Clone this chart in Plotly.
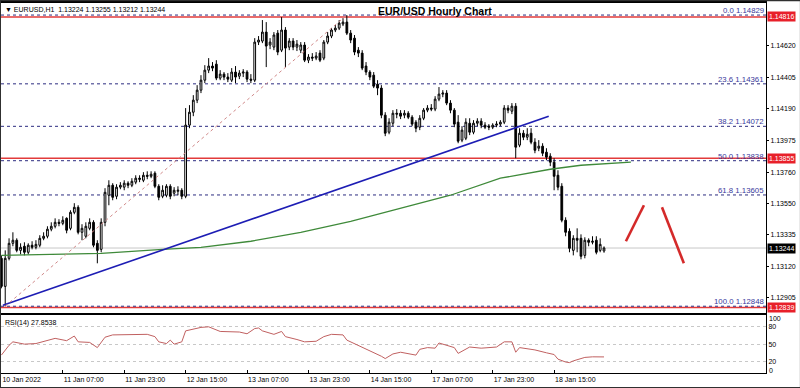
import plotly.graph_objects as go

# ---------------- data ----------------
bars = list(range(158))
opens = [1.13174, 1.12983, 1.13174, 1.13276, 1.13297, 1.13228, 1.13256, 1.13215, 1.13263, 1.13249,
         1.13263, 1.13310, 1.13324, 1.13372, 1.13392, 1.13419, 1.13412, 1.13446, 1.13378, 1.13487,
         1.13521, 1.13351, 1.13324, 1.13378, 1.13419, 1.13276, 1.13235, 1.13419, 1.13603, 1.13671,
         1.13596, 1.13658, 1.13658, 1.13685, 1.13671, 1.13692, 1.13719, 1.13705, 1.13739, 1.13732,
         1.13753, 1.13664, 1.13596, 1.13603, 1.13664, 1.13617, 1.13630, 1.13637, 1.13596, 1.14080,
         1.14168, 1.14250, 1.14318, 1.14386, 1.14454, 1.14482, 1.14495, 1.14400, 1.14427, 1.14407,
         1.14386, 1.14441, 1.14413, 1.14434, 1.14441, 1.14393, 1.14386, 1.14645, 1.14652, 1.14713,
         1.14625, 1.14611, 1.14706, 1.14590, 1.14727, 1.14611, 1.14652, 1.14611, 1.14590, 1.14625,
         1.14522, 1.14543, 1.14536, 1.14570, 1.14536, 1.14645, 1.14686, 1.14727, 1.14740, 1.14768,
         1.14781, 1.14706, 1.14672, 1.14590, 1.14570, 1.14482, 1.14441, 1.14420, 1.14359, 1.14332,
         1.14148, 1.14032, 1.14093, 1.14161, 1.14161, 1.14148, 1.14161, 1.14134, 1.14100, 1.14066,
         1.14127, 1.14182, 1.14196, 1.14189, 1.14257, 1.14291, 1.14298, 1.14230, 1.14182, 1.14100,
         1.13978, 1.13991, 1.14093, 1.14032, 1.14093, 1.14107, 1.14080, 1.14073, 1.14066, 1.14080,
         1.14087, 1.14100, 1.14196, 1.14175, 1.14209, 1.13944, 1.14025, 1.13998, 1.14025, 1.13964,
         1.13923, 1.13937, 1.13896, 1.13869, 1.13828, 1.13739, 1.13664, 1.13433, 1.13358, 1.13228,
         1.13310, 1.13310, 1.13194, 1.13297, 1.13283, 1.13297, 1.13228, 1.13224]
highs = [1.13194, 1.13228, 1.13310, 1.13351, 1.13310, 1.13276, 1.13283, 1.13276, 1.13290, 1.13297,
         1.13331, 1.13351, 1.13392, 1.13419, 1.13446, 1.13440, 1.13460, 1.13453, 1.13501, 1.13549,
         1.13535, 1.13406, 1.13419, 1.13446, 1.13433, 1.13297, 1.13446, 1.13651, 1.13705, 1.13685,
         1.13678, 1.13692, 1.13705, 1.13698, 1.13719, 1.13739, 1.13739, 1.13760, 1.13766, 1.13766,
         1.13766, 1.13678, 1.13671, 1.13678, 1.13678, 1.13658, 1.13664, 1.13651, 1.14196, 1.14216,
         1.14284, 1.14352, 1.14420, 1.14488, 1.14536, 1.14509, 1.14522, 1.14454, 1.14441, 1.14434,
         1.14468, 1.14482, 1.14454, 1.14461, 1.14454, 1.14427, 1.14672, 1.14686, 1.14795, 1.14781,
         1.14672, 1.14713, 1.14727, 1.14815, 1.14747, 1.14672, 1.14672, 1.14659, 1.14645, 1.14645,
         1.14563, 1.14570, 1.14577, 1.14590, 1.14659, 1.14713, 1.14740, 1.14761, 1.14795, 1.14808,
         1.14829, 1.14727, 1.14693, 1.14611, 1.14590, 1.14509, 1.14454, 1.14441, 1.14386, 1.14352,
         1.14168, 1.14127, 1.14182, 1.14189, 1.14182, 1.14182, 1.14175, 1.14148, 1.14114, 1.14148,
         1.14196, 1.14216, 1.14223, 1.14277, 1.14339, 1.14318, 1.14318, 1.14250, 1.14196, 1.14148,
         1.14073, 1.14127, 1.14127, 1.14114, 1.14127, 1.14127, 1.14100, 1.14087, 1.14093, 1.14107,
         1.14114, 1.14216, 1.14216, 1.14230, 1.14230, 1.14059, 1.14046, 1.14059, 1.14059, 1.13991,
         1.13978, 1.13957, 1.13923, 1.13889, 1.13855, 1.13773, 1.13685, 1.13453, 1.13378, 1.13331,
         1.13378, 1.13337, 1.13317, 1.13310, 1.13324, 1.13324, 1.13310, 1.13255]
lows = [1.12970, 1.12848, 1.13160, 1.13256, 1.13215, 1.13201, 1.13194, 1.13201, 1.13235, 1.13235,
        1.13249, 1.13297, 1.13310, 1.13358, 1.13378, 1.13392, 1.13399, 1.13344, 1.13365, 1.13474,
        1.13337, 1.13297, 1.13310, 1.13365, 1.13249, 1.13140, 1.13215, 1.13392, 1.13535, 1.13569,
        1.13576, 1.13644, 1.13637, 1.13651, 1.13658, 1.13678, 1.13692, 1.13692, 1.13712, 1.13719,
        1.13651, 1.13569, 1.13583, 1.13589, 1.13576, 1.13596, 1.13603, 1.13576, 1.13583, 1.14059,
        1.14141, 1.14230, 1.14298, 1.14366, 1.14434, 1.14447, 1.14386, 1.14386, 1.14386, 1.14373,
        1.14373, 1.14366, 1.14393, 1.14407, 1.14373, 1.14366, 1.14373, 1.14625, 1.14638, 1.14475,
        1.14597, 1.14590, 1.14556, 1.14577, 1.14475, 1.14590, 1.14590, 1.14584, 1.14570, 1.14509,
        1.14502, 1.14516, 1.14522, 1.14509, 1.14522, 1.14631, 1.14672, 1.14713, 1.14727, 1.14754,
        1.14693, 1.14638, 1.14556, 1.14543, 1.14454, 1.14420, 1.14386, 1.14332, 1.14284, 1.14127,
        1.14005, 1.14018, 1.14073, 1.14127, 1.14121, 1.14127, 1.14121, 1.14073, 1.14032, 1.14046,
        1.14114, 1.14168, 1.14175, 1.14175, 1.14243, 1.14270, 1.14216, 1.14161, 1.14066, 1.13957,
        1.13964, 1.13978, 1.14012, 1.14018, 1.14073, 1.14059, 1.14053, 1.14046, 1.14053, 1.14066,
        1.14073, 1.14087, 1.14161, 1.14155, 1.13855, 1.13930, 1.13978, 1.13978, 1.13950, 1.13889,
        1.13903, 1.13869, 1.13841, 1.13801, 1.13637, 1.13637, 1.13419, 1.13324, 1.13215, 1.13194,
        1.13215, 1.13167, 1.13174, 1.13256, 1.13269, 1.13201, 1.13215, 1.13212]
closes = [1.12983, 1.13174, 1.13276, 1.13297, 1.13228, 1.13249, 1.13215, 1.13263, 1.13249, 1.13269,
          1.13310, 1.13324, 1.13372, 1.13392, 1.13419, 1.13412, 1.13433, 1.13365, 1.13487, 1.13521,
          1.13351, 1.13378, 1.13392, 1.13419, 1.13263, 1.13228, 1.13419, 1.13623, 1.13671, 1.13589,
          1.13658, 1.13671, 1.13685, 1.13671, 1.13698, 1.13719, 1.13712, 1.13739, 1.13732, 1.13746,
          1.13664, 1.13589, 1.13637, 1.13664, 1.13596, 1.13637, 1.13637, 1.13596, 1.14080, 1.14168,
          1.14250, 1.14318, 1.14386, 1.14454, 1.14482, 1.14468, 1.14400, 1.14427, 1.14407, 1.14393,
          1.14441, 1.14407, 1.14434, 1.14441, 1.14393, 1.14386, 1.14645, 1.14659, 1.14713, 1.14618,
          1.14645, 1.14693, 1.14577, 1.14727, 1.14604, 1.14652, 1.14611, 1.14631, 1.14625, 1.14522,
          1.14543, 1.14536, 1.14550, 1.14522, 1.14645, 1.14686, 1.14727, 1.14740, 1.14774, 1.14781,
          1.14706, 1.14659, 1.14577, 1.14570, 1.14468, 1.14441, 1.14407, 1.14345, 1.14332, 1.14148,
          1.14025, 1.14100, 1.14161, 1.14155, 1.14141, 1.14161, 1.14134, 1.14087, 1.14059, 1.14127,
          1.14182, 1.14196, 1.14189, 1.14257, 1.14291, 1.14298, 1.14230, 1.14182, 1.14087, 1.13971,
          1.14046, 1.14100, 1.14032, 1.14093, 1.14107, 1.14080, 1.14066, 1.14066, 1.14080, 1.14087,
          1.14100, 1.14196, 1.14182, 1.14209, 1.13930, 1.14025, 1.13998, 1.14018, 1.13964, 1.13909,
          1.13937, 1.13889, 1.13862, 1.13828, 1.13732, 1.13658, 1.13433, 1.13351, 1.13242, 1.13310,
          1.13297, 1.13188, 1.13297, 1.13283, 1.13290, 1.13215, 1.13269, 1.13244]

time_tick_bars = [0, 16, 32, 48, 64, 80, 96, 112, 128, 144]
time_tick_labels = ["10 Jan 2022", "11 Jan 07:00", "11 Jan 23:00", "12 Jan 15:00", "13 Jan 07:00",
                    "13 Jan 23:00", "14 Jan 15:00", "17 Jan 07:00", "17 Jan 23:00", "18 Jan 15:00"]
price_ticks = [1.12905, 1.13120, 1.13335, 1.13550, 1.13760, 1.13975, 1.14190, 1.14405, 1.14620]
rsi_ticks = [20, 50, 80]
rsi_edge_labels = [100, 0]

ma_bars = [0, 26, 42, 52, 65, 78, 91, 104, 117, 130, 143, 151, 164]
ma_values = [1.13194, 1.13208, 1.13235, 1.13249, 1.13290, 1.13351, 1.13426, 1.13515,
             1.13603, 1.13719, 1.13780, 1.13807, 1.13828]

trend_bars = [0.4, 142.6]
trend_values = [1.12854, 1.14141]

fib_anchor_bars = [1, 90]
fib_anchor_values = [1.12848, 1.14829]
fib_ratios = ["0.0", "23.6", "38.2", "50.0", "61.8", "100.0"]
fib_values = [1.14829, 1.14361, 1.14072, 1.13838, 1.13605, 1.12848]

red_levels = [1.14816, 1.13855, 1.12839]
last_price = 1.13244

stroke_up_bars = [162.7, 167.4]
stroke_up_values = [1.13290, 1.13535]
stroke_down_bars = [172.1, 177.8]
stroke_down_values = [1.13521, 1.13140]

rsi_bars = [0, 2, 3, 6, 9, 12, 14, 17, 19, 20, 23, 25, 27, 29, 31, 35, 38, 40, 41, 43, 44, 45, 47,
            48, 52, 54, 57, 62, 64, 66, 67, 68, 71, 73, 74, 77, 79, 82, 84, 86, 89, 90, 92, 95,
            99, 100, 102, 104, 108, 109, 111, 113, 114, 118, 119, 122, 125, 129, 131, 133, 134,
            135, 139, 142, 144, 145, 147, 148, 149, 152, 154, 157]
rsi_values = [31, 48, 54, 50, 51, 57, 60, 56, 64, 54, 53, 44, 62, 66, 66, 66, 67, 63, 54, 51, 57, 50, 54,
              73, 79, 80, 72, 71, 68, 77, 78, 73, 67, 72, 63, 58, 54, 55, 63, 67, 66, 57, 51, 41,
              29, 25, 33, 36, 31, 41, 44, 43, 52, 44, 34, 45, 43, 45, 54, 54, 36,
              44, 40, 35, 32, 24, 19, 18, 21, 27, 28, 27.8538]

# ---------------- figure ----------------
FONT = "Liberation Sans, Arial, sans-serif"
FS = 7
fig = go.Figure()

fig.add_trace(go.Candlestick(
    x=bars, open=opens, high=highs, low=lows, close=closes,
    increasing=dict(line=dict(color="#000000", width=1), fillcolor="#ffffff"),
    decreasing=dict(line=dict(color="#000000", width=1), fillcolor="#000000"),
    whiskerwidth=0, xaxis="x", yaxis="y", showlegend=False, hoverinfo="skip"))

fig.add_trace(go.Scatter(x=ma_bars, y=ma_values, mode="lines", line=dict(color="#3f8a3a", width=1.3),
                         xaxis="x", yaxis="y", showlegend=False, hoverinfo="skip"))
fig.add_trace(go.Scatter(x=trend_bars, y=trend_values, mode="lines", line=dict(color="#1d1db4", width=1.6),
                         xaxis="x", yaxis="y", showlegend=False, hoverinfo="skip"))
fig.add_trace(go.Scatter(x=fib_anchor_bars, y=fib_anchor_values, mode="lines",
                         line=dict(color="#d08a8a", width=1, dash="dot"),
                         xaxis="x", yaxis="y", showlegend=False, hoverinfo="skip"))
for bx, vy in ((stroke_up_bars, stroke_up_values), (stroke_down_bars, stroke_down_values)):
    fig.add_trace(go.Scatter(x=bx, y=vy, mode="lines", line=dict(color="#d42a2a", width=2.6),
                             xaxis="x", yaxis="y", showlegend=False, hoverinfo="skip"))

fig.add_trace(go.Scatter(x=rsi_bars, y=rsi_values, mode="lines", line=dict(color="#c06060", width=1),
                         xaxis="x2", yaxis="y2", showlegend=False, hoverinfo="skip"))

shapes = []
shapes.append(dict(type="line", xref="x domain", yref="y", x0=0, x1=1, y0=last_price, y1=last_price,
                   line=dict(color="#c8c8c8", width=1), layer="below"))
for lv in red_levels:
    shapes.append(dict(type="line", xref="x domain", yref="y", x0=0, x1=1, y0=lv, y1=lv,
                       line=dict(color="#e23b3b", width=1.6), layer="below"))
for fv in fib_values:
    shapes.append(dict(type="line", xref="x domain", yref="y", x0=0, x1=1, y0=fv, y1=fv,
                       line=dict(color="#2c2c80", width=1, dash="dot"), layer="below"))
# outer frame of the terminal window
shapes.append(dict(type="rect", xref="paper", yref="paper", x0=-0.6/765, x1=799.5/765, y0=-14.5/370, y1=372.4/370,
                   line=dict(color="#303030", width=1.2), fillcolor="rgba(0,0,0,0)", layer="above"))

annotations = []
for r, fv in zip(fib_ratios, fib_values):
    annotations.append(dict(xref="x domain", yref="y", x=1, y=fv, xanchor="right", yanchor="bottom",
                            text=f"{r} {fv:.5f}", showarrow=False,
                            font=dict(family=FONT, size=7.8, color="#3a3a9c"), yshift=-2))
for lv in red_levels:
    annotations.append(dict(xref="x domain", yref="y", x=1, y=lv, xanchor="left", yanchor="middle",
                            text=f"{lv:.5f}", showarrow=False, bgcolor="#e8202a", xshift=1,
                            font=dict(family=FONT, size=FS, color="#ffffff"), borderpad=1))
annotations.append(dict(xref="x domain", yref="y", x=1, y=last_price, xanchor="left", yanchor="middle",
                        text=f"{last_price:.5f}", showarrow=False, bgcolor="#000000", xshift=1,
                        font=dict(family=FONT, size=FS, color="#ffffff"), borderpad=1))
annotations.append(dict(xref="x domain", yref="y domain", x=0.003, y=0.998, xanchor="left", yanchor="top",
                        text=f"▼ EURUSD,H1  {opens[-1]:.5f} {highs[-1]:.5f} {lows[-1]:.5f} {closes[-1]:.5f}",
                        showarrow=False, font=dict(family=FONT, size=FS, color="#000000")))
annotations.append(dict(xref="x domain", yref="y domain", x=0.567, y=1.0, xanchor="center", yanchor="top",
                        text="<b>EUR/USD Hourly Chart</b>", showarrow=False,
                        font=dict(family=FONT, size=10.5, color="#000000")))
annotations.append(dict(xref="x2 domain", yref="y2 domain", x=0.003, y=0.97, xanchor="left", yanchor="top",
                        text=f"RSI(14) {rsi_values[-1]:.4f}", showarrow=False,
                        font=dict(family=FONT, size=FS, color="#000000")))
for val, yy in zip(rsi_edge_labels, (0.95, 0.035)):
    annotations.append(dict(xref="x2 domain", yref="y2 domain", x=1, y=yy, xanchor="left", yanchor="middle",
                            text=str(val), showarrow=False, xshift=1,
                            font=dict(family=FONT, size=FS, color="#000000")))

xr = [-0.1, 199.2]
fig.update_layout(
    width=800, height=388,
    margin=dict(l=1, r=34, t=3, b=15),
    paper_bgcolor="#ffffff", plot_bgcolor="#ffffff",
    boxgap=0.35,
    xaxis=dict(domain=[0, 1], anchor="y", range=xr, showticklabels=False, ticks="",
               showgrid=False, zeroline=False, showline=True, linecolor="#000000", linewidth=2,
               mirror=True, rangeslider=dict(visible=False), fixedrange=True),
    yaxis=dict(domain=[0.161, 1], anchor="x", side="right", range=[1.12799, 1.14911],
               tickvals=price_ticks, ticktext=[f"{p:.5f}" for p in price_ticks],
               ticks="outside", ticklen=2, tickcolor="#000000",
               tickfont=dict(family=FONT, size=FS, color="#000000"),
               showgrid=False, zeroline=False, showline=True, linecolor="#000000", linewidth=1,
               mirror=True, fixedrange=True),
    xaxis2=dict(domain=[0, 1], anchor="y2", matches="x", range=xr,
                tickvals=time_tick_bars, ticktext=time_tick_labels, ticklabelposition="outside right",
                ticks="inside", ticklen=3, tickcolor="#000000",
                tickfont=dict(family=FONT, size=FS, color="#000000"),
                showgrid=False, zeroline=False, showline=True, linecolor="#000000", linewidth=1,
                mirror=True),
    yaxis2=dict(domain=[0, 0.156], anchor="x2", side="right", range=[0, 100],
                tickvals=rsi_ticks, ticks="", tickfont=dict(family=FONT, size=FS, color="#000000"),
                showgrid=True, gridcolor="#c8c8c8", griddash="dot", gridwidth=1,
                zeroline=False, showline=True, linecolor="#000000", linewidth=1, mirror=True,
                fixedrange=True),
    shapes=shapes, annotations=annotations, showlegend=False,
)

fig.write_html("out.html", config={"displayModeBar": False, "staticPlot": True},
               post_script="document.body.style.margin='0';document.body.style.overflow='hidden';")
